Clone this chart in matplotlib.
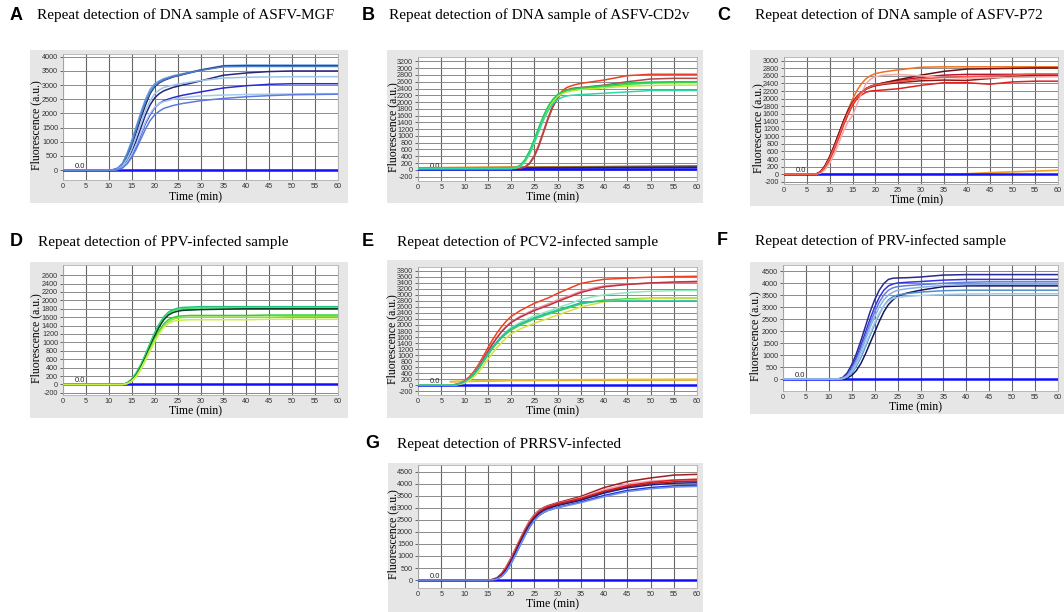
import matplotlib
matplotlib.use("Agg")
import matplotlib.pyplot as plt
from matplotlib.patches import Rectangle

plt.rcParams["axes.unicode_minus"] = False

# ---------------- data ----------------
# Panel A (ASFV-MGF)
T_A = [0, 10, 11, 12, 13, 14, 15, 16, 17, 18, 19, 20, 21, 22, 24, 26, 28, 30, 35, 40, 45, 50, 55, 60]
A_curves = [
    ("#6f9fdc", [0, 0, 20, 80, 250, 600, 1050, 1550, 2050, 2500, 2850, 3050, 3150, 3230, 3330, 3400, 3470, 3540, 3690, 3710, 3710, 3710, 3710, 3710]),
    ("#1c1c4c", [0, 0, 10, 50, 180, 450, 850, 1350, 1850, 2300, 2700, 2950, 3080, 3170, 3290, 3370, 3450, 3530, 3670, 3680, 3680, 3680, 3680, 3680]),
    ("#4a7fd0", [0, 0, 15, 70, 220, 550, 950, 1450, 1950, 2400, 2750, 2980, 3100, 3190, 3300, 3380, 3450, 3520, 3650, 3660, 3660, 3660, 3660, 3660]),
    ("#26267a", [0, 0, 5, 30, 120, 330, 650, 1050, 1500, 1950, 2300, 2550, 2700, 2800, 2920, 3000, 3070, 3150, 3350, 3430, 3480, 3500, 3500, 3500]),
    ("#9cc3ea", [0, 0, 8, 40, 150, 400, 750, 1200, 1650, 2100, 2450, 2700, 2830, 2920, 3000, 3060, 3110, 3160, 3250, 3280, 3290, 3300, 3300, 3300]),
    ("#2b2bd6", [0, 0, 5, 25, 90, 250, 500, 850, 1250, 1650, 1950, 2200, 2350, 2450, 2560, 2640, 2700, 2760, 2900, 2980, 3030, 3050, 3050, 3050]),
    ("#a6c8ee", [0, 0, 5, 25, 100, 280, 560, 900, 1300, 1700, 2000, 2220, 2350, 2420, 2500, 2550, 2590, 2620, 2650, 2670, 2680, 2690, 2700, 2700]),
    ("#5b7be0", [0, 0, 3, 20, 80, 220, 450, 750, 1100, 1450, 1750, 1950, 2080, 2180, 2280, 2350, 2400, 2450, 2530, 2590, 2630, 2660, 2670, 2680]),
]
A_base = [("#1010ff", [0, 0, 0, 0], [0, 20, 40, 60])]

# Panel B (ASFV-CD2v)
T_B = [0, 20, 21, 22, 23, 24, 25, 26, 27, 28, 29, 30, 31, 32, 33, 34, 35, 40, 45, 50, 55, 60]
B_curves = [
    ("#e8402a", [40, 40, 45, 55, 90, 200, 420, 750, 1150, 1550, 1900, 2150, 2330, 2430, 2480, 2520, 2550, 2650, 2780, 2820, 2820, 2820]),
    ("#b04848", [40, 40, 45, 55, 80, 180, 380, 700, 1100, 1500, 1850, 2100, 2280, 2360, 2400, 2420, 2430, 2500, 2600, 2680, 2700, 2700]),
    ("#44dd44", [40, 40, 60, 120, 260, 500, 820, 1180, 1530, 1820, 2030, 2180, 2270, 2320, 2350, 2370, 2390, 2450, 2520, 2560, 2570, 2580]),
    ("#b8e830", [40, 40, 55, 100, 230, 460, 780, 1140, 1500, 1800, 2010, 2160, 2250, 2300, 2330, 2350, 2370, 2420, 2470, 2490, 2500, 2500]),
    ("#22cc55", [40, 45, 70, 140, 300, 560, 900, 1260, 1600, 1880, 2080, 2220, 2300, 2350, 2380, 2400, 2420, 2480, 2560, 2590, 2600, 2600]),
    ("#30d8a8", [40, 40, 55, 110, 250, 480, 800, 1150, 1480, 1750, 1950, 2070, 2140, 2180, 2200, 2210, 2220, 2260, 2300, 2340, 2340, 2340]),
]
B_base = [
    ("#e8a030", [60, 80, 90, 100, 110], [0, 15, 30, 45, 60]),
    ("#806030", [50, 60, 80, 95, 110], [0, 15, 30, 45, 60]),
    ("#202070", [40, 50, 55, 65, 75], [0, 15, 30, 45, 60]),
    ("#1010ff", [15, 15, 15, 15, 15], [0, 15, 30, 45, 60]),
]

# Panel C (ASFV-P72)
T_C = [0, 7, 8, 9, 10, 11, 12, 13, 14, 15, 16, 17, 18, 19, 20, 22, 25, 30, 35, 40, 45, 50, 55, 60]
C_curves = [
    ("#f07020", [0, 0, 60, 200, 430, 720, 1040, 1380, 1700, 1980, 2220, 2400, 2530, 2610, 2660, 2710, 2760, 2830, 2840, 2840, 2840, 2840, 2840, 2840]),
    ("#8b1a1a", [0, 0, 70, 230, 470, 760, 1080, 1400, 1680, 1900, 2060, 2170, 2250, 2300, 2340, 2380, 2420, 2470, 2490, 2480, 2530, 2590, 2620, 2620]),
    ("#e02020", [0, 0, 50, 170, 380, 650, 960, 1280, 1570, 1820, 2000, 2100, 2170, 2200, 2210, 2230, 2260, 2350, 2420, 2420, 2380, 2440, 2460, 2460]),
    ("#c01030", [0, 0, 60, 210, 450, 740, 1060, 1380, 1660, 1890, 2060, 2180, 2270, 2330, 2370, 2420, 2480, 2560, 2620, 2640, 2640, 2640, 2640, 2640]),
    ("#701010", [0, 0, 55, 200, 440, 730, 1050, 1370, 1650, 1880, 2050, 2170, 2260, 2320, 2360, 2420, 2500, 2620, 2720, 2780, 2790, 2800, 2810, 2810]),
    ("#f4a8a8", [0, 0, 30, 120, 290, 530, 820, 1130, 1380, 1550, 1850, 2150, 2400, 2520, 2580, 2620, 2640, 2600, 2560, 2540, 2550, 2560, 2570, 2580]),
    ("#f05848", [0, 0, 55, 190, 420, 700, 1010, 1330, 1620, 1860, 2040, 2170, 2260, 2320, 2360, 2400, 2450, 2520, 2560, 2580, 2600, 2620, 2650, 2650]),
]
C_base = [
    ("#f0a020", [0, 0, 0, 40, 70, 100], [0, 20, 38, 45, 52, 60]),
    ("#1010ff", [0, 0, 0, 0, 0, 0], [0, 20, 38, 45, 52, 60]),
]

# Panel D (PPV)
T_D = [0, 13, 14, 15, 16, 17, 18, 19, 20, 21, 22, 23, 24, 25, 26, 28, 30, 35, 40, 45, 50, 55, 60]
D_curves = [
    ("#20c080", [0, 0, 40, 130, 280, 480, 720, 980, 1230, 1440, 1610, 1720, 1780, 1810, 1830, 1840, 1850, 1850, 1850, 1850, 1850, 1850, 1850]),
    ("#40e070", [0, 0, 35, 115, 255, 450, 690, 950, 1200, 1410, 1580, 1690, 1750, 1780, 1800, 1810, 1820, 1820, 1820, 1820, 1820, 1820, 1820]),
    ("#104020", [0, 0, 30, 100, 230, 420, 650, 900, 1150, 1370, 1540, 1650, 1710, 1740, 1760, 1770, 1780, 1790, 1800, 1800, 1800, 1800, 1800]),
    ("#30d030", [0, 0, 25, 90, 210, 390, 610, 850, 1080, 1280, 1440, 1540, 1590, 1620, 1630, 1640, 1640, 1640, 1640, 1650, 1650, 1650, 1650]),
    ("#90e040", [0, 0, 22, 85, 200, 375, 590, 820, 1050, 1240, 1390, 1490, 1550, 1580, 1590, 1600, 1600, 1600, 1600, 1600, 1610, 1610, 1610]),
    ("#c8f040", [0, 0, 20, 80, 190, 360, 570, 800, 1020, 1210, 1360, 1450, 1500, 1520, 1530, 1540, 1540, 1540, 1540, 1550, 1550, 1550, 1550]),
]
D_base = [("#1010ff", [0, 0, 0, 0], [0, 20, 40, 60])]

# Panel E (PCV2)
T_E = [0, 7, 8, 9, 10, 11, 12, 13, 14, 15, 16, 17, 18, 19, 20, 22, 25, 28, 30, 33, 35, 38, 40, 45, 50, 55, 60]
E_curves = [
    ("#f04020", [0, 0, 20, 60, 140, 270, 450, 680, 950, 1230, 1500, 1740, 1950, 2130, 2280, 2480, 2720, 2900, 3050, 3250, 3380, 3470, 3520, 3560, 3590, 3610, 3620]),
    ("#f090a0", [0, 0, 15, 50, 120, 235, 400, 610, 860, 1120, 1370, 1590, 1790, 1960, 2100, 2290, 2520, 2700, 2830, 3000, 3120, 3240, 3300, 3360, 3390, 3410, 3420]),
    ("#c03040", [0, 0, 15, 50, 120, 230, 390, 600, 850, 1110, 1360, 1580, 1780, 1940, 2080, 2260, 2480, 2650, 2780, 2960, 3080, 3200, 3270, 3350, 3400, 3430, 3450]),
    ("#90e8c0", [0, 0, 10, 40, 100, 200, 340, 530, 760, 1000, 1230, 1440, 1620, 1780, 1910, 2090, 2300, 2460, 2570, 2730, 2850, 2950, 3000, 3080, 3120, 3140, 3150]),
    ("#40d040", [0, 0, 10, 40, 100, 200, 340, 530, 760, 990, 1210, 1400, 1570, 1710, 1830, 2000, 2200, 2360, 2460, 2600, 2700, 2780, 2830, 2870, 2890, 2900, 2900]),
    ("#d8e040", [0, 0, 5, 25, 70, 150, 270, 430, 630, 850, 1060, 1250, 1420, 1570, 1700, 1870, 2060, 2220, 2330, 2490, 2600, 2700, 2770, 2840, 2880, 2900, 2900]),
    ("#20c0a0", [0, 0, 10, 45, 110, 220, 370, 570, 800, 1040, 1260, 1450, 1620, 1760, 1880, 2040, 2240, 2400, 2500, 2640, 2740, 2780, 2790, 2800, 2800, 2800, 2800]),
]
E_base = [
    ("#e8a020", [110, 150, 160, 165, 170], [7, 20, 35, 50, 60]),
    ("#e0c040", [120, 170, 180, 190, 195], [7, 20, 35, 50, 60]),
    ("#1010ff", [0, 0, 0, 0, 0], [0, 15, 30, 45, 60]),
]

# Panel F (PRV)
T_F = [0, 12, 13, 14, 15, 16, 17, 18, 19, 20, 21, 22, 23, 24, 25, 27, 30, 35, 40, 45, 50, 55, 60]
F_curves = [
    ("#2a2a90", [0, 0, 60, 250, 600, 1050, 1600, 2200, 2800, 3300, 3700, 3980, 4150, 4200, 4210, 4220, 4250, 4330, 4350, 4350, 4350, 4350, 4350]),
    ("#3535e0", [0, 0, 40, 180, 480, 900, 1400, 1950, 2500, 3000, 3400, 3700, 3880, 3960, 4000, 4030, 4060, 4120, 4150, 4150, 4150, 4150, 4150]),
    ("#6080e0", [0, 0, 30, 150, 420, 800, 1280, 1800, 2320, 2800, 3200, 3500, 3700, 3800, 3850, 3890, 3930, 3990, 4030, 4050, 4050, 4050, 4050]),
    ("#151560", [0, 0, 5, 40, 150, 350, 650, 1050, 1500, 1950, 2400, 2800, 3100, 3300, 3450, 3580, 3700, 3850, 3880, 3880, 3880, 3880, 3880]),
    ("#5090c8", [0, 0, 15, 80, 250, 530, 900, 1350, 1820, 2280, 2700, 3050, 3300, 3430, 3500, 3560, 3620, 3680, 3700, 3700, 3700, 3700, 3700]),
    ("#a0c8e8", [0, 0, 20, 100, 300, 600, 1000, 1450, 1900, 2350, 2750, 3050, 3250, 3350, 3400, 3440, 3480, 3520, 3540, 3550, 3550, 3550, 3550]),
    ("#8ab0e8", [0, 0, 25, 120, 350, 700, 1150, 1650, 2150, 2600, 3000, 3300, 3500, 3620, 3700, 3760, 3820, 3900, 3940, 3950, 3950, 3950, 3950]),
]
F_base = [("#1010ff", [0, 0, 0, 0], [0, 20, 40, 60])]

# Panel G (PRRSV)
T_G = [0, 15, 16, 17, 18, 19, 20, 21, 22, 23, 24, 25, 26, 27, 28, 30, 35, 40, 45, 50, 55, 60]
G_curves = [
    ("#a02020", [0, 0, 20, 100, 280, 560, 920, 1320, 1730, 2120, 2460, 2720, 2900, 3020, 3100, 3220, 3480, 3850, 4100, 4250, 4370, 4400]),
    ("#f0a0b0", [0, 0, 18, 90, 260, 530, 890, 1290, 1700, 2090, 2430, 2690, 2870, 2990, 3070, 3190, 3430, 3760, 4000, 4120, 4170, 4150]),
    ("#e02020", [0, 0, 15, 80, 240, 500, 850, 1250, 1660, 2050, 2390, 2650, 2840, 2970, 3060, 3180, 3400, 3700, 3930, 4070, 4160, 4200]),
    ("#c81818", [0, 0, 12, 70, 220, 470, 820, 1210, 1620, 2010, 2350, 2610, 2800, 2930, 3020, 3140, 3360, 3660, 3880, 4020, 4090, 4120]),
    ("#202080", [0, 0, 8, 55, 190, 420, 760, 1150, 1560, 1950, 2300, 2570, 2760, 2890, 2980, 3100, 3320, 3620, 3840, 3960, 4030, 4050]),
    ("#2030e0", [0, 0, 5, 40, 150, 360, 680, 1060, 1460, 1850, 2200, 2480, 2680, 2810, 2900, 3020, 3250, 3520, 3730, 3850, 3920, 3950]),
    ("#7090e8", [0, 0, 5, 40, 150, 360, 680, 1060, 1460, 1850, 2200, 2480, 2680, 2810, 2900, 3010, 3220, 3470, 3680, 3800, 3870, 3900]),
]
G_base = [("#1010ff", [0, 0, 0, 0], [0, 20, 40, 60])]

X_TICKS = list(range(0, 61, 5))

TITLES = {
    "A": "Repeat detection of DNA sample of ASFV-MGF",
    "B": "Repeat detection of DNA sample of ASFV-CD2v",
    "C": "Repeat detection of DNA sample of ASFV-P72",
    "D": "Repeat detection of PPV-infected sample",
    "E": "Repeat detection of PCV2-infected sample",
    "F": "Repeat detection of PRV-infected sample",
    "G": "Repeat detection of PRRSV-infected",
}

# ---------------- layout (pixels) ----------------
W, H = 1064, 612
fig = plt.figure(figsize=(W / 100, H / 100), dpi=100)
fig.patch.set_facecolor("white")

SERIF = ["Liberation Serif", "DejaVu Serif"]
SANS = ["Liberation Sans", "DejaVu Sans"]


def rect(l, t, r, b):
    return [l / W, 1 - b / H, (r - l) / W, (b - t) / H]


panels = [
    ("A", T_A, A_curves, A_base, (63, 54, 338, 180), (30, 50, 348, 203), (-350, 4100), list(range(0, 4001, 500)), (10, 15), 37, 36, 197),
    ("B", T_B, B_curves, B_base, (418, 57, 697, 181), (387, 50, 703, 203), (-330, 3330), list(range(-200, 3201, 200)), (362, 15), 389, 393, 197),
    ("C", T_C, C_curves, C_base, (784, 57, 1058, 184), (750, 50, 1064, 206), (-260, 3100), list(range(-200, 3001, 200)), (717, 15), 755, 758, 200),
    ("D", T_D, D_curves, D_base, (63, 265, 338, 395), (30, 262, 348, 418), (-250, 2840), list(range(-200, 2601, 200)), (10, 242), 38, 36, 411),
    ("E", T_E, E_curves, E_base, (418, 267, 697, 395), (387, 260, 703, 418), (-330, 3930), list(range(-200, 3801, 200)), (362, 242), 397, 392, 411),
    ("F", T_F, F_curves, F_base, (783, 265, 1058, 391), (750, 262, 1064, 414), (-500, 4750), list(range(0, 4501, 500)), (717, 241), 755, 755, 407),
    ("G", T_G, G_curves, G_base, (418, 465, 697, 588), (388, 463, 703, 612), (-333, 4790), list(range(0, 4501, 500)), (365, 444), 397, 393, 604),
]

for key, T, curves, base, prect, brect, ylim, yticks, lxy, tx, ylx, xly in panels:
    bl, bt, br, bb = brect
    fig.patches.append(Rectangle((bl / W, 1 - bb / H), (br - bl) / W, (bb - bt) / H,
                                 transform=fig.transFigure, facecolor="#e6e6e6",
                                 edgecolor="none", zorder=-5))
    ax = fig.add_axes(rect(*prect))
    ax.set_zorder(2)
    ax.set_facecolor("white")
    ax.set_xlim(0, 60)
    ax.set_ylim(*ylim)
    ax.set_xticks(X_TICKS)
    ax.set_yticks(yticks)
    ax.tick_params(axis="both", labelsize=5.2, colors="#333333", length=2, width=0.5, pad=1.5)
    ax.tick_params(axis="x", length=0, pad=2)
    for lab in ax.get_xticklabels() + ax.get_yticklabels():
        lab.set_family(SANS)
    ax.grid(True, axis="x", color="#666666", linewidth=0.8)
    ax.grid(True, axis="y", color="#8a8a8a", linewidth=0.7)
    ax.set_axisbelow(True)
    for s in ax.spines.values():
        s.set_color("#b0b0b0")
        s.set_linewidth(0.6)
    for col, xs_v, xs_t in base:
        ax.plot(xs_t, xs_v, color=col, lw=1.8 if col == "#1010ff" else 1.2, zorder=3)
    for col, vals in curves:
        ax.plot(T, vals, color=col, lw=1.1, zorder=4)
    ax.text(2.5, 0, "0.0", fontsize=5.5, family=SANS, color="#222222",
            va="bottom", ha="left", transform=ax.transData)
    fig.text(lxy[0] / W, 1 - lxy[1] / H, key, fontsize=13, fontweight="bold",
             family=SANS, va="center", ha="left", zorder=5)
    fig.text(tx / W, 1 - lxy[1] / H, TITLES[key], fontsize=11, family=SERIF,
             va="center", ha="left", zorder=5)
    pl, pt, pr, pb = prect
    fig.text(ylx / W, 1 - ((pt + pb) / 2 + 8) / H, "Fluorescence (a.u.)", fontsize=8.5,
             family=SERIF, rotation=90, va="center", ha="center", zorder=5)
    fig.text(((pl + pr) / 2 - 5) / W, 1 - xly / H, "Time (min)", fontsize=8.5,
             family=SERIF, va="center", ha="center", zorder=5)

fig.savefig("out.png", dpi=100)
